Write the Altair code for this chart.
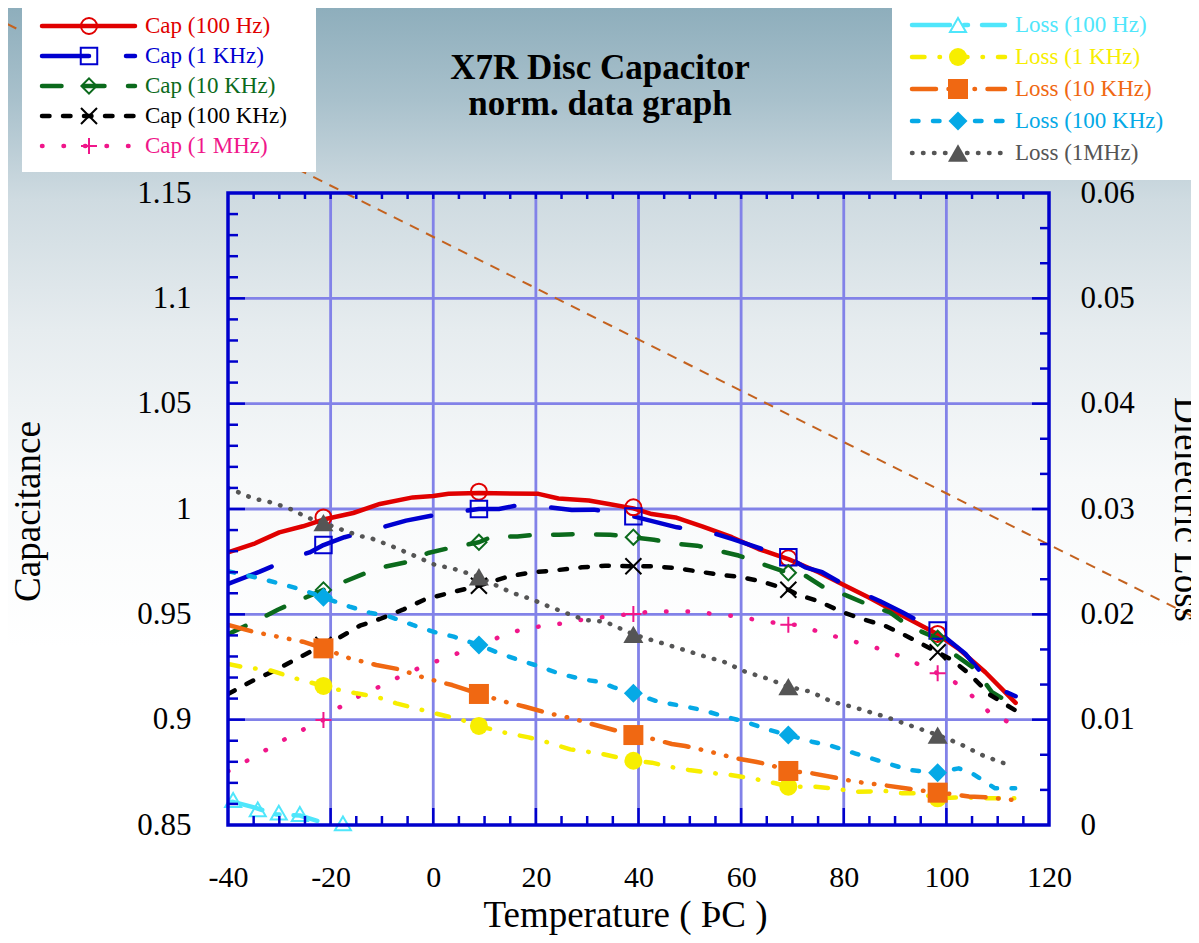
import altair as alt
import pandas as pd

FONT = "Liberation Serif"
W, H = 821, 632

# ---------------- data ----------------
marker_t = [-21.4, 8.9, 39.0, 69.2, 98.3]

cap_100hz_t = [-40, -35, -30, -25.4, -21.4, -15.6, -10.4, -4, 0, 3, 8.9, 20.5, 24.4, 30.3, 34.2, 39.0, 42.6, 47.2, 52.4, 58.2, 63.4, 69.2, 75.1, 80.3, 84.9, 91.4, 98.3, 102.4, 107.6, 113.5]
cap_100hz_v = [0.9794, 0.9834, 0.9889, 0.9918, 0.9950, 0.9981, 1.0024, 1.0055, 1.0062, 1.0072, 1.0076, 1.0072, 1.0050, 1.0040, 1.0024, 1.0003, 0.9976, 0.9960, 0.9918, 0.9866, 0.9810, 0.9762, 0.9700, 0.9636, 0.9580, 0.9494, 0.9405, 0.9336, 0.9225, 0.9080]
cap_100hz_m = [0.9960, 1.0082, 1.0008, 0.9766, 0.9407]

cap_1khz_t = [-40, -33.8, -27.7, -24.1, -21.4, -17.3, -11.1, -5.3, -0.4, 8.9, 12.8, 16.7, 22.5, 27.0, 31.3, 39.0, 47.5, 53.7, 58.2, 64.1, 69.2, 72.5, 75.8, 81.0, 87.1, 91.4, 98.3, 103.7, 108.9, 113.5]
cap_1khz_v = [0.9644, 0.9703, 0.9766, 0.9794, 0.9829, 0.9866, 0.9905, 0.9945, 0.9968, 1.0000, 1.0000, 1.0019, 1.0008, 0.9995, 0.9997, 0.9965, 0.9913, 0.9892, 0.9858, 0.9810, 0.9769, 0.9723, 0.9700, 0.9628, 0.9562, 0.9510, 0.9420, 0.9313, 0.9162, 0.9111]
cap_1khz_m = [0.9829, 1.0000, 0.9965, 0.9771, 0.9423]

cap_10khz_t = [-40, -34.2, -30.3, -26.0, -21.4, -17.6, -13.7, -9.5, -5.3, -1.0, 3.7, 8.9, 11.5, 16.4, 19.8, 24.5, 28.4, 34.5, 39.0, 43.0, 47.5, 51.4, 55.6, 59.5, 64.1, 69.2, 72.5, 76.1, 80.6, 84.5, 89.0, 92.9, 98.3, 101.0, 105.6, 108.9, 113.5]
cap_10khz_v = [0.9405, 0.9473, 0.9522, 0.9568, 0.9616, 0.9652, 0.9691, 0.9726, 0.9747, 0.9791, 0.9818, 0.9842, 0.9869, 0.9869, 0.9878, 0.9878, 0.9881, 0.9878, 0.9866, 0.9854, 0.9834, 0.9826, 0.9802, 0.9779, 0.9739, 0.9697, 0.9684, 0.9628, 0.9589, 0.9548, 0.9509, 0.9441, 0.9386, 0.9320, 0.9240, 0.9130, 0.9063]
cap_10khz_m = [0.9616, 0.9842, 0.9866, 0.9697, 0.9386]

cap_100khz_t = [-40, -35.1, -30.9, -26.7, -21.4, -18.2, -14.3, -10.4, -5.9, -1.7, 3.0, 8.9, 14.7, 19.2, 23.1, 29.0, 33.5, 39.0, 43.2, 47.8, 51.7, 55.9, 60.2, 64.1, 69.2, 71.2, 75.0, 79.8, 83.6, 88.0, 92.4, 98.3, 101.0, 104.5, 108.5, 113.5]
cap_100khz_v = [0.9122, 0.9186, 0.9233, 0.9288, 0.9355, 0.9391, 0.9446, 0.9478, 0.9522, 0.9570, 0.9601, 0.9636, 0.9680, 0.9699, 0.9707, 0.9723, 0.9731, 0.9728, 0.9728, 0.9718, 0.9703, 0.9688, 0.9676, 0.9655, 0.9617, 0.9592, 0.9563, 0.9510, 0.9478, 0.9446, 0.9395, 0.9320, 0.9285, 0.9217, 0.9118, 0.9043]
cap_100khz_m = [0.9355, 0.9636, 0.9728, 0.9617, 0.9320]

cap_1mhz_t = [-40, -35.1, -30.9, -26.7, -21.4, -18.6, -14.3, -10.1, -5.9, -1.7, 2.7, 6.9, 8.9, 11.1, 15.3, 19.2, 23.5, 27.7, 34.2, 39.0, 42.3, 46.6, 50.5, 54.7, 58.9, 63.1, 69.2, 71.2, 75.4, 79.7, 83.8, 88.1, 92.0, 98.3, 100.4, 104.6, 108.9, 113.0]
cap_1mhz_v = [0.8755, 0.8821, 0.8880, 0.8937, 0.8999, 0.9054, 0.9114, 0.9161, 0.9212, 0.9256, 0.9296, 0.9335, 0.9355, 0.9375, 0.9415, 0.9438, 0.9450, 0.9470, 0.9491, 0.9502, 0.9513, 0.9513, 0.9513, 0.9502, 0.9491, 0.9473, 0.9450, 0.9450, 0.9415, 0.9386, 0.9359, 0.9328, 0.9292, 0.9220, 0.9201, 0.9122, 0.9022, 0.8980]
cap_1mhz_m = [0.8999, 0.9355, 0.9502, 0.9450, 0.9220]

loss_100hz_t = [-40.5, -39.0, -35.1, -30.6, -26.0, -22.6]
loss_100hz_v = [0.0021, 0.0022, 0.0017, 0.0010, 0.0009, 0.0004]
loss_100hz_mt = [-39.0, -34.2, -30.1, -26.0, -17.6]
loss_100hz_m = [0.00237, 0.00149, 0.00117, 0.00104, 0.00016]

loss_1khz_t = [-40, -37.1, -31.9, -26.7, -21.4, -18.9, -15.0, -11.1, -7.2, -2.7, 0.9, 5.6, 8.9, 14.0, 18.6, 22.5, 26.7, 30.0, 32.9, 39.0, 42.6, 45.9, 49.8, 53.7, 57.9, 62.1, 66.7, 69.2, 74.5, 79.0, 82.9, 88.1, 91.4, 94.6, 98.3, 103.1, 107.6, 113.4]
loss_1khz_v = [0.0153, 0.0150, 0.0147, 0.0139, 0.0132, 0.01288, 0.0125, 0.01218, 0.01155, 0.01098, 0.01054, 0.00997, 0.0094, 0.00876, 0.00832, 0.00782, 0.00718, 0.00696, 0.00674, 0.0061, 0.00592, 0.00554, 0.00522, 0.00497, 0.00475, 0.00443, 0.00396, 0.00364, 0.00364, 0.00339, 0.00316, 0.00323, 0.00301, 0.00301, 0.00253, 0.00263, 0.00253, 0.00253]
loss_1khz_m = [0.0132, 0.0094, 0.0061, 0.00364, 0.00253]

loss_10khz_t = [-40, -35.1, -30.3, -25.4, -21.4, -16.3, -11.1, -6.6, -2.0, 1.1, 3.7, 8.9, 14.0, 17.9, 22.5, 27.0, 30.9, 35.2, 39.0, 42.3, 46.5, 49.1, 54.0, 58.9, 62.8, 65.7, 69.2, 73.8, 79.0, 82.3, 87.5, 92.0, 98.3, 101.7, 104.4, 107.6, 113.4]
loss_10khz_v = [0.0190, 0.01835, 0.01788, 0.0174, 0.01677, 0.01582, 0.01519, 0.01478, 0.01402, 0.0136, 0.01329, 0.01244, 0.0117, 0.01123, 0.0106, 0.01013, 0.00959, 0.00902, 0.00854, 0.00823, 0.00769, 0.0075, 0.00696, 0.00633, 0.00601, 0.0057, 0.00513, 0.00491, 0.00443, 0.00411, 0.0038, 0.00348, 0.00307, 0.0029, 0.0027, 0.00263, 0.00237]
loss_10khz_m = [0.01677, 0.01244, 0.00854, 0.00513, 0.00307]

loss_100khz_t = [-40, -38.7, -33.8, -29.6, -25.4, -21.4, -16.3, -12.4, -8.5, -4.0, 0.5, 4.0, 8.9, 12.4, 16.7, 20.5, 24.4, 29.0, 32.2, 35.2, 39.0, 43.9, 48.5, 52.4, 56.9, 60.8, 65.0, 69.2, 73.8, 77.7, 82.3, 87.5, 92.7, 98.3, 102.4, 105.0, 109.5, 113.4]
loss_100khz_v = [0.0241, 0.02395, 0.02342, 0.02288, 0.02231, 0.02161, 0.02073, 0.02016, 0.01978, 0.01899, 0.01828, 0.01788, 0.01709, 0.01639, 0.01566, 0.01509, 0.0144, 0.01383, 0.0136, 0.01307, 0.0125, 0.0117, 0.0113, 0.01092, 0.01028, 0.00981, 0.00909, 0.00854, 0.00791, 0.0075, 0.00678, 0.00601, 0.00522, 0.00497, 0.00538, 0.00491, 0.00348, 0.00348]
loss_100khz_m = [0.02161, 0.01709, 0.0125, 0.00854, 0.00497]

loss_1mhz_t = [-40, -35.1, -31.2, -27.3, -24.7, -21.4, -18.6, -14.3, -12.1, -8.2, -4.0, 0.4, 3.7, 8.9, 12.1, 15.3, 19.2, 21.8, 25.7, 29.6, 33.5, 39.0, 42.3, 44.3, 48.5, 52.7, 56.6, 60.8, 65.0, 69.2, 73.5, 77.7, 81.6, 88.1, 92.7, 98.3, 102.4, 106.9, 110.8, 113.1]
loss_1mhz_v = [0.0320, 0.0310, 0.03059, 0.0299, 0.02921, 0.0287, 0.02817, 0.02744, 0.02722, 0.02649, 0.02563, 0.02468, 0.02437, 0.02357, 0.02278, 0.02206, 0.02143, 0.02089, 0.02016, 0.01946, 0.0193, 0.01809, 0.0176, 0.01731, 0.01668, 0.01604, 0.0155, 0.01455, 0.01392, 0.01313, 0.01266, 0.0117, 0.01123, 0.01028, 0.00949, 0.00854, 0.00775, 0.00665, 0.00592, 0.0057]
loss_1mhz_m = [0.0287, 0.02357, 0.01809, 0.01313, 0.00854]

# stray dashed guide line of the original figure (data coordinates, extends past the axes)
guide_t = [-83.0, 148.0]
guide_c = [1.2302, 0.9490]

cap_names = ["Cap (100 Hz)", "Cap (1 KHz)", "Cap (10 KHz)", "Cap (100 KHz)", "Cap (1 MHz)"]
loss_names = ["Loss (100 Hz)", "Loss (1 KHz)", "Loss (10 KHz)", "Loss (100 KHz)", "Loss (1MHz)"]

title_lines = ["X7R Disc Capacitor", "norm. data graph"]
x_title = "Temperature ( ÞC )"
left_title = "Capacitance"
right_title = "Dielectric Loss"
x_ticks = [-40, -20, 0, 20, 40, 60, 80, 100, 120]
cap_ticks = [0.85, 0.9, 0.95, 1, 1.05, 1.1, 1.15]
loss_ticks = [0, 0.01, 0.02, 0.03, 0.04, 0.05, 0.06]

SERIES = [
    ("Cap (100 Hz)", "cap", cap_100hz_t, cap_100hz_v, marker_t, cap_100hz_m),
    ("Cap (1 KHz)", "cap", cap_1khz_t, cap_1khz_v, marker_t, cap_1khz_m),
    ("Cap (10 KHz)", "cap", cap_10khz_t, cap_10khz_v, marker_t, cap_10khz_m),
    ("Cap (100 KHz)", "cap", cap_100khz_t, cap_100khz_v, marker_t, cap_100khz_m),
    ("Cap (1 MHz)", "cap", cap_1mhz_t, cap_1mhz_v, marker_t, cap_1mhz_m),
    ("Loss (100 Hz)", "loss", loss_100hz_t, loss_100hz_v, loss_100hz_mt, loss_100hz_m),
    ("Loss (1 KHz)", "loss", loss_1khz_t, loss_1khz_v, marker_t, loss_1khz_m),
    ("Loss (10 KHz)", "loss", loss_10khz_t, loss_10khz_v, marker_t, loss_10khz_m),
    ("Loss (100 KHz)", "loss", loss_100khz_t, loss_100khz_v, marker_t, loss_100khz_m),
    ("Loss (1MHz)", "loss", loss_1mhz_t, loss_1mhz_v, marker_t, loss_1mhz_m),
]

# ---------------- styles ----------------
X_PATH = "M-1,-1L1,1M-1,1L1,-1"
PLUS_PATH = "M-1,0L1,0M0,-1L0,1"
STYLE = {
    "Cap (100 Hz)": dict(color="#e00000", dash=None, shape="circle", filled=False, size=256),
    "Cap (1 KHz)": dict(color="#0000d0", dash=[47, 37], shape="square", filled=False, size=272),
    "Cap (10 KHz)": dict(color="#0b6a1c", dash=[19.5, 23.5], shape="diamond", filled=False, size=230),
    "Cap (100 KHz)": dict(color="#000000", dash=[7.5, 13.5], shape=X_PATH, filled=False, size=256),
    "Cap (1 MHz)": dict(color="#f0168a", dash=[0.5, 21], shape=PLUS_PATH, filled=False, size=256),
    "Loss (100 Hz)": dict(color="#4fe6fb", dash=[38, 14, 4, 14], shape="triangle-up", filled=False, size=256),
    "Loss (1 KHz)": dict(color="#f7ee00", dash=[12.5, 15, 0.5, 15], shape="circle", filled=True, size=324),
    "Loss (10 KHz)": dict(color="#f06812", dash=[24, 12.5, 0.5, 12.5, 0.5, 12.5, 0.5, 12.5], shape="square", filled=True, size=400),
    "Loss (100 KHz)": dict(color="#05a9e6", dash=[6.5, 14.5], shape="diamond", filled=True, size=361),
    "Loss (1MHz)": dict(color="#555555", dash=[0.5, 10.5], shape="triangle-up", filled=True, size=400),
}
GRID = "#8282e8"
FRAME = "#0000cc"

xscale = alt.Scale(domain=[-40, 120], nice=False, zero=False)
cap_scale = alt.Scale(domain=[0.85, 1.15], nice=False, zero=False)
loss_scale = alt.Scale(domain=[0, 0.06], nice=False, zero=False)

common_axis = dict(domain=False, ticks=False, tickSize=0, grid=False, labelFont=FONT,
                   labelColor="black", labelFlush=False, labelOverlap=False,
                   labelExpr="datum.value + ''", titleFont=FONT,
                   titleFontWeight="normal", titleColor="black", zindex=1)
# the same x axis definition is given to every layer so the shared axis merges cleanly
x_axis = alt.Axis(orient="bottom", values=x_ticks, labelFontSize=30, labelPadding=37,
                  title=x_title, titleFontSize=37, titleX=397, titleY=101,
                  titleBaseline="alphabetic", titleAlign="center", **common_axis)
left_axis = alt.Axis(orient="left", values=cap_ticks, labelFontSize=31, labelPadding=37,
                     title=left_title, titleFontSize=37, titleAngle=270, titleX=-218, titleY=318,
                     titleBaseline="top", titleAlign="center", **common_axis)
right_axis = alt.Axis(orient="right", values=loss_ticks, labelFontSize=31, labelPadding=31,
                      title=right_title, titleFontSize=37, titleAngle=90, titleX=125, titleY=316,
                      titleBaseline="alphabetic", titleAlign="center", **common_axis)


def X(field):
    return alt.X(field, scale=xscale, axis=x_axis)


one = pd.DataFrame({"k": [0]})
layers = []

# background gradient of the whole figure
bg = alt.Chart(one).mark_rect(
    color=alt.LinearGradient(
        gradient="linear", x1=0, x2=0, y1=0, y2=1,
        stops=[alt.GradientStop(offset=0, color="#8eaebc"),
               alt.GradientStop(offset=0.1, color="#a9c1cc"),
               alt.GradientStop(offset=0.207, color="#cfdbe1"),
               alt.GradientStop(offset=0.347, color="#e6ecef"),
               alt.GradientStop(offset=0.509, color="#f7f9fa"),
               alt.GradientStop(offset=0.69, color="#ffffff"),
               alt.GradientStop(offset=1, color="#ffffff")]),
    strokeWidth=0,
).encode(x=alt.value(-220), x2=alt.value(W + 142), y=alt.value(-185), y2=alt.value(H + 110))
layers.append(bg)

# grid lines
layers.append(alt.Chart(pd.DataFrame({"g": [-20, 0, 20, 40, 60, 80, 100]})).mark_rule(
    color=GRID, strokeWidth=2.8).encode(
    x=X("g:Q"), y=alt.value(0), y2=alt.value(H)))
layers.append(alt.Chart(pd.DataFrame({"g": [0.9, 0.95, 1.0, 1.05, 1.1]})).mark_rule(
    color=GRID, strokeWidth=2.8).encode(
    y=alt.Y("g:Q", scale=cap_scale, axis=None), x=alt.value(0), x2=alt.value(W)))

# stray dashed line
layers.append(alt.Chart(pd.DataFrame({"T": guide_t, "v": guide_c})).mark_line(
    color="#c4621f", strokeWidth=2, strokeDash=[10, 8], clip=False).encode(
    x=X("T:Q"), y=alt.Y("v:Q", scale=cap_scale, axis=None)))

# data lines
first_cap, first_loss = True, True
for name, grp, t, v, mt, mv in SERIES:
    st = STYLE[name]
    if grp == "cap":
        sc = cap_scale
        ya = left_axis if first_cap else None
        first_cap = False
    else:
        sc = loss_scale
        ya = right_axis if first_loss else None
        first_loss = False
    kw = dict(color=st["color"], strokeWidth=4.5, strokeCap="round", strokeJoin="round", clip=True)
    if st["dash"]:
        kw["strokeDash"] = st["dash"]
    layers.append(alt.Chart(pd.DataFrame({"T": t, "v": v})).mark_line(**kw).encode(
        x=X("T:Q"), y=alt.Y("v:Q", scale=sc, axis=ya)))

# markers
for name, grp, t, v, mt, mv in SERIES:
    st = STYLE[name]
    sc = cap_scale if grp == "cap" else loss_scale
    layers.append(alt.Chart(pd.DataFrame({"T": mt, "v": mv})).mark_point(
        shape=st["shape"], filled=st["filled"], size=st["size"], color=st["color"],
        strokeWidth=2, opacity=1, clip=False).encode(
        x=X("T:Q"), y=alt.Y("v:Q", scale=sc, axis=None)))

# inward ticks
left_minor = [round(0.85 + 0.01 * i, 2) for i in range(31) if i % 5 != 0]
left_major = [0.9, 0.95, 1.0, 1.05, 1.1]
bottom_minor = [-40 + 5 * i for i in range(33) if i % 4 != 0]
bottom_major = [-20, 0, 20, 40, 60, 80, 100]
top_ticks = [-40 + 5 * i for i in range(1, 32)]
right_minor = [round(0.01 * i / 3, 6) for i in range(19) if i % 3 != 0]
right_major = [0.01, 0.02, 0.03, 0.04, 0.05]


def ytick(vals, sc, x0, x1):
    return alt.Chart(pd.DataFrame({"g": vals})).mark_rule(color=FRAME, strokeWidth=2.5).encode(
        y=alt.Y("g:Q", scale=sc, axis=None), x=alt.value(x0), x2=alt.value(x1))


def xtick(vals, y0, y1):
    return alt.Chart(pd.DataFrame({"g": vals})).mark_rule(color=FRAME, strokeWidth=2.5).encode(
        x=X("g:Q"), y=alt.value(y0), y2=alt.value(y1))


layers += [
    ytick(left_minor, cap_scale, 0, 10), ytick(left_major, cap_scale, 0, 17),
    ytick(right_minor, loss_scale, W, W - 9), ytick(right_major, loss_scale, W, W - 17),
    xtick(bottom_minor, H, H - 9), xtick(bottom_major, H, H - 17),
    xtick(top_ticks, 0, 6),
]

# frame
layers.append(alt.Chart(one).mark_rect(filled=False, color=FRAME, strokeWidth=3.5).encode(
    x=alt.value(0), x2=alt.value(W), y=alt.value(0), y2=alt.value(H)))

# legend boxes
layers.append(alt.Chart(one).mark_rect(color="white", strokeWidth=0).encode(
    x=alt.value(-206), x2=alt.value(88), y=alt.value(-188), y2=alt.value(-21)))
layers.append(alt.Chart(one).mark_rect(color="white", strokeWidth=0).encode(
    x=alt.value(664), x2=alt.value(W + 150), y=alt.value(-188), y2=alt.value(-13)))


def legend_entry(name, yv, xl0, xl1, xm, xt):
    st = STYLE[name]
    kw = dict(color=st["color"], strokeWidth=4.5, strokeCap="round")
    if st["dash"]:
        kw["strokeDash"] = st["dash"]
    return [
        alt.Chart(one).mark_rule(**kw).encode(x=alt.value(xl0), x2=alt.value(xl1), y=alt.value(yv)),
        alt.Chart(one).mark_point(shape=st["shape"], filled=st["filled"], size=st["size"],
                                  color=st["color"], strokeWidth=2, opacity=1).encode(
            x=alt.value(xm), y=alt.value(yv)),
        alt.Chart(one).mark_text(text=name, align="left", baseline="middle", font=FONT,
                                 fontSize=23, color=st["color"]).encode(
            x=alt.value(xt), y=alt.value(yv)),
    ]


for i, nm in enumerate(cap_names):
    layers += legend_entry(nm, -167 + 30 * i, -186, -93, -139, -83)
for i, nm in enumerate(loss_names):
    layers += legend_entry(nm, -168 + 32 * i, 684, 777, 730, 787)

# figure title
layers.append(alt.Chart(one).mark_text(
    text=title_lines, font=FONT, fontSize=35, fontWeight="bold", align="center",
    baseline="alphabetic", lineHeight=36, color="black").encode(
    x=alt.value(372), y=alt.value(-114)))

chart = alt.layer(*layers).resolve_scale(y="independent").properties(
    width=W, height=H,
    padding={"left": 220, "top": 185, "right": 142, "bottom": 110},
    autosize=alt.AutoSizeParams(type="none"),
).configure_view(stroke=None).configure(font=FONT)

chart.save("out.html", embed_options={"renderer": "svg", "actions": False})
